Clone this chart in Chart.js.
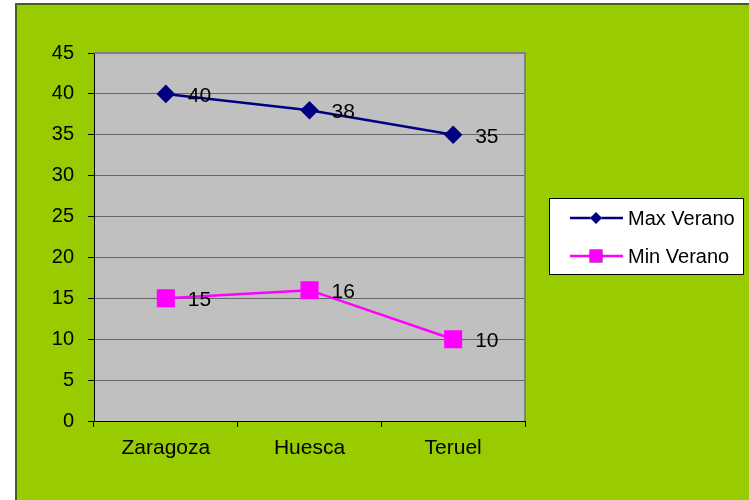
<!DOCTYPE html>
<html>
<head>
<meta charset="utf-8">
<script src="https://cdn.jsdelivr.net/npm/chart.js@4/dist/chart.umd.min.js"></script>
<style>
    html, body { margin: 0; padding: 0; background: #fff; }
    #wrap { width: 749px; height: 500px; }
</style>
</head>
<body>
<div id="wrap"><canvas id="tempChart"></canvas></div>
<script>
// Data
const cities = ['Zaragoza', 'Huesca', 'Teruel'];
const maxVerano = [40, 38, 35];
const minVerano = [15, 16, 10];
const yMin = 0, yMax = 45, yStep = 5;

const FONT = '"Liberation Sans", Arial, sans-serif';

// Green frame and grey plot area
const backgroundPlugin = {
    id: 'background',
    beforeDraw(chart) {
        const ctx = chart.ctx;
        const a = chart.chartArea;
        ctx.save();
        ctx.fillStyle = '#ffffff';
        ctx.fillRect(0, 0, chart.width, chart.height);
        ctx.fillStyle = '#99cc00';
        ctx.fillRect(15, 3, chart.width - 15, chart.height - 3);
        ctx.fillStyle = '#4a5a20';
        ctx.fillRect(15, 3, chart.width - 15, 2);
        ctx.fillRect(15, 3, 2, chart.height - 3);
        ctx.fillStyle = '#c0c0c0';
        ctx.fillRect(a.left, a.top, a.right - a.left, a.bottom - a.top);
        ctx.restore();
    },
    beforeDatasetsDraw(chart) {
        const ctx = chart.ctx;
        const a = chart.chartArea;
        ctx.save();
        ctx.strokeStyle = '#808080';
        ctx.lineWidth = 2;
        ctx.beginPath();
        ctx.moveTo(a.left, a.top);
        ctx.lineTo(a.right, a.top);
        ctx.lineTo(a.right, a.bottom);
        ctx.stroke();
        ctx.restore();
    }
};

// Value labels to the right of each point
const valueLabels = {
    id: 'valueLabels',
    afterDatasetsDraw(chart) {
        const ctx = chart.ctx;
        ctx.save();
        ctx.font = '21px ' + FONT;
        ctx.fillStyle = '#000';
        ctx.textAlign = 'left';
        ctx.textBaseline = 'middle';
        chart.data.datasets.forEach((ds, i) => {
            chart.getDatasetMeta(i).data.forEach((pt, j) => {
                ctx.fillText(ds.data[j], pt.x + 22, pt.y + 2);
            });
        });
        ctx.restore();
    }
};

// Legend box on the right
const boxLegend = {
    id: 'boxLegend',
    afterDraw(chart) {
        const ctx = chart.ctx;
        const bx = 549, by = 198, bw = 194, bh = 76;
        ctx.save();
        ctx.fillStyle = '#fff';
        ctx.fillRect(bx, by, bw, bh);
        ctx.strokeStyle = '#000';
        ctx.lineWidth = 1;
        ctx.strokeRect(bx + 0.5, by + 0.5, bw, bh);
        const rows = [218, 256];
        chart.data.datasets.forEach((ds, i) => {
            const y = rows[i];
            ctx.strokeStyle = ds.borderColor;
            ctx.lineWidth = 2.5;
            ctx.beginPath();
            ctx.moveTo(570, y);
            ctx.lineTo(623, y);
            ctx.stroke();
            Chart.helpers.drawPoint(ctx, {
                pointStyle: ds.pointStyle,
                radius: ds.legendRadius,
                borderWidth: 0
            }, 596, y);
            ctx.fillStyle = ds.pointBackgroundColor;
            ctx.fill();
            ctx.fillStyle = '#000';
            ctx.font = '20px ' + FONT;
            ctx.textBaseline = 'middle';
            ctx.fillText(ds.label, 628, y + 1);
        });
        ctx.restore();
    }
};

const ctx = document.getElementById('tempChart').getContext('2d');
const tempChart = new Chart(ctx, {
    type: 'line',
    data: {
        labels: cities,
        datasets: [{
            label: 'Max Verano',
            data: maxVerano,
            borderColor: '#000080',
            backgroundColor: '#000080',
            pointBackgroundColor: '#000080',
            pointBorderColor: '#000080',
            borderWidth: 2.5,
            pointStyle: 'rectRot',
            pointRadius: 7.5,
            legendRadius: 6,
            tension: 0
        }, {
            label: 'Min Verano',
            data: minVerano,
            borderColor: '#ff00ff',
            backgroundColor: '#ff00ff',
            pointBackgroundColor: '#ff00ff',
            pointBorderColor: '#ff00ff',
            borderWidth: 2.5,
            pointStyle: 'rect',
            pointRadius: 11,
            legendRadius: 9,
            tension: 0
        }]
    },
    options: {
        responsive: true,
        maintainAspectRatio: false,
        devicePixelRatio: 1,
        animation: false,
        layout: {
            padding: { top: 53, right: 224, left: 0, bottom: 0 }
        },
        plugins: {
            legend: { display: false },
            tooltip: { enabled: false }
        },
        scales: {
            x: {
                offset: true,
                grid: {
                    offset: true,
                    drawOnChartArea: false,
                    tickLength: 6,
                    color: '#000'
                },
                border: { display: true, color: '#000', width: 1 },
                ticks: {
                    color: '#000',
                    padding: 9,
                    font: { family: FONT, size: 21 }
                },
                afterFit(scale) { scale.height = 79; }
            },
            y: {
                min: yMin,
                max: yMax,
                grid: {
                    color: '#666',
                    tickColor: '#000',
                    tickLength: 6
                },
                border: { display: true, color: '#000', width: 1 },
                ticks: {
                    stepSize: yStep,
                    color: '#000',
                    padding: 14,
                    font: { family: FONT, size: 20 }
                },
                afterFit(scale) { scale.width = 94; }
            }
        }
    },
    plugins: [backgroundPlugin, valueLabels, boxLegend]
});
</script>
</body>
</html>
